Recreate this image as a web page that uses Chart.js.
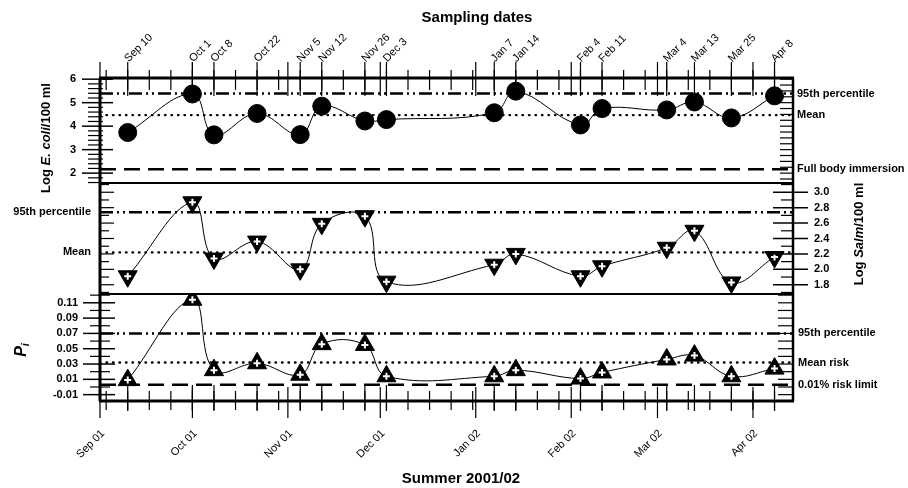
<!DOCTYPE html>
<html>
<head>
<meta charset="utf-8">
<script src="https://cdn.jsdelivr.net/npm/chart.js@4.4.1/dist/chart.umd.min.js"></script>
<style>
  html, body { margin: 0; padding: 0; background: #fff; }
</style>
</head>
<body>
<canvas id="pathogens" width="908" height="488"></canvas>
<script>
// Beach sampling, summer 2001/02: E. coli, Salmonella and infection risk

const sampleDates = ['2001-09-10', '2001-10-01', '2001-10-08', '2001-10-22', '2001-11-05', '2001-11-12', '2001-11-26', '2001-12-03',
  '2002-01-07', '2002-01-14', '2002-02-04', '2002-02-11', '2002-03-04', '2002-03-13', '2002-03-25', '2002-04-08']
const sampleLabels = ['Sep 10', 'Oct 1', 'Oct 8', 'Oct 22', 'Nov 5', 'Nov 12', 'Nov 26', 'Dec 3',
  'Jan 7', 'Jan 14', 'Feb 4', 'Feb 11', 'Mar 4', 'Mar 13', 'Mar 25', 'Apr 8']

const logEcoli = [3.73, 5.37, 3.63, 4.54, 3.64, 4.85, 4.22, 4.28, 4.57, 5.49, 4.05, 4.75, 4.69, 5.03, 4.35, 5.29]
const logSalm = [1.91, 2.87, 2.14, 2.36, 2.0, 2.59, 2.69, 1.84, 2.06, 2.2, 1.91, 2.04, 2.28, 2.5, 1.83, 2.16]
const riskPi = [0.009, 0.114, 0.022, 0.031, 0.016, 0.056, 0.055, 0.014, 0.014, 0.022, 0.011, 0.019, 0.036, 0.041, 0.014, 0.024]

// reference lines
const ecoliRefLabels = ['95th percentile', 'Mean', 'Full body immersion']
const ecoliRefs = [5.39, 4.47, 2.17]
const salmRefLabels = ['95th percentile', 'Mean']
const salmRefs = [2.74, 2.22]
const riskRefLabels = ['95th percentile', 'Mean risk', '0.01% risk limit']
const riskRefs = [0.07, 0.032, 0.003]

// axes
const monthDates = ['2001-09-01', '2001-10-01', '2001-11-01', '2001-12-01', '2002-01-01', '2002-02-01', '2002-03-01', '2002-04-01']
const monthLabels = ['Sep 01', 'Oct 01', 'Nov 01', 'Dec 01', 'Jan 02', 'Feb 02', 'Mar 02', 'Apr 02']
const ecoliTicks = [2, 3, 4, 5, 6]
const salmTicks = [1.8, 2.0, 2.2, 2.4, 2.6, 2.8, 3.0]
const riskTicks = [-0.01, 0.01, 0.03, 0.05, 0.07, 0.09, 0.11]

const ink = '#000'
const family = '"Liberation Sans", Arial, Helvetica, sans-serif'
Chart.defaults.font.family = family
Chart.defaults.color = ink

const day0 = Date.parse('2001-09-01')
const dayOf = d => Math.round((Date.parse(d) - day0) / 864e5)
const sampleDays = sampleDates.map(dayOf)
const monthDays = monthDates.map(dayOf)
const xMax = 225

const points = values => values.map((v, i) => ({ x: sampleDays[i], y: v }))
const flat = v => [{ x: 0, y: v }, { x: xMax, y: v }]

const refStyles = {
  pct95: { borderDash: [13, 4, 2, 4, 2, 4], borderWidth: 2.5 },
  mean: { borderDash: [0.5, 6], borderWidth: 2.4, borderCapStyle: 'round' },
  limit: { borderDash: [16, 8], borderWidth: 2.5 }
}

function refLine(v, yAxisID, style) {
  return { data: flat(v), yAxisID, borderColor: ink, pointRadius: 0, order: 3, ...refStyles[style] }
}

function marks(values, yAxisID, pointStyle, radius, rotation) {
  return {
    data: points(values), yAxisID, borderColor: ink, borderWidth: 1, tension: 0.4,
    pointStyle, pointRadius: radius, pointRotation: rotation || 0,
    pointBackgroundColor: ink, pointBorderColor: ink, pointBorderWidth: 1, order: 1
  }
}

function crosses(values, yAxisID) {
  return {
    data: points(values), yAxisID, showLine: false, pointStyle: 'cross',
    pointRadius: 3.5, pointBorderColor: '#fff', pointBorderWidth: 2, order: 0
  }
}

function axis(position, stackWeight, weight, min, max, values, labels, padding) {
  return {
    type: 'linear', position, stack: position, stackWeight, weight, min, max,
    afterBuildTicks: s => { s.ticks = values.map(v => ({ value: v })) },
    afterFit: s => { s.width = position === 'left' ? 100 : 115 },
    grid: { display: false, drawTicks: false },
    border: { display: false },
    ticks: { padding, autoSkip: false, color: ink, font: { size: 11, weight: 'bold' }, callback: (v, i) => labels[i] }
  }
}

function richText(ctx, parts, cx, cy, rot) {
  ctx.save()
  ctx.translate(cx, cy)
  ctx.rotate(rot)
  ctx.textAlign = 'left'
  ctx.textBaseline = 'middle'
  let w = 0
  parts.forEach(p => { ctx.font = p.font; w += ctx.measureText(p.t).width })
  let px = -w / 2
  parts.forEach(p => {
    ctx.font = p.font
    ctx.fillText(p.t, px, p.dy || 0)
    px += ctx.measureText(p.t).width
  })
  ctx.restore()
}

// frame, tick marks and titles
const decor = {
  id: 'decor',
  afterDraw(chart) {
    const { ctx, chartArea: a, scales: s } = chart
    ctx.save()
    ctx.strokeStyle = ink
    ctx.fillStyle = ink
    const seg = (x1, y1, x2, y2, w) => {
      ctx.lineWidth = w
      ctx.beginPath()
      ctx.moveTo(x1, y1)
      ctx.lineTo(x2, y2)
      ctx.stroke()
    }
    const steps = (scale, step, fn) => {
      const n0 = Math.ceil(scale.min / step - 1e-6)
      const n1 = Math.floor(scale.max / step + 1e-6)
      for (let n = n0; n <= n1; n++) fn(scale.getPixelForValue(n * step), n)
    }

    // x ticks: weeks, month starts, sampling dates
    for (let d = 2; d <= xMax; d += 7) {
      const px = s.x.getPixelForValue(d)
      seg(px, a.top - 8, px, a.top + 12, 1.2)
      seg(px, a.bottom - 10, px, a.bottom + 9, 1.2)
    }
    monthDays.forEach(d => {
      const px = s.x.getPixelForValue(d)
      seg(px, a.top - 16, px, a.top + 18, 1.2)
      seg(px, a.bottom - 14, px, a.bottom + 17, 1.2)
    })
    sampleDays.forEach(d => {
      const px = s.x.getPixelForValue(d)
      seg(px, a.top - 16, px, a.top + 18, 1.2)
      seg(px, a.bottom - 16, px, a.bottom + 10, 1.2)
    })

    // y ticks
    steps(s.yTopL, 0.2, (py, n) => n % 5 === 0 ? seg(a.left - 18, py, a.left + 13, py, 1.5) : seg(a.left - 12, py, a.left + 3, py, 1.2))
    steps(s.yTopR, 0.25, py => seg(a.right - 13, py, a.right, py, 1.2))
    steps(s.yMidL, 0.1, (py, n) => seg(a.left, py, a.left + (n % 2 === 0 ? 14 : 9), py, 1.2))
    steps(s.yMidR, 0.1, (py, n) => n % 2 === 0 ? seg(a.right - 20, py, a.right + 15, py, 1.5) : seg(a.right - 12, py, a.right, py, 1.2))
    steps(s.yBotL, 0.01, (py, n) => Math.abs(n % 2) === 1 ? seg(a.left - 17, py, a.left + 15, py, 1.5) : seg(a.left - 10, py, a.left + 10, py, 1.2))
    steps(s.yBotR, 0.01, py => seg(a.right - 15, py, a.right, py, 1.2))

    // panel frame
    seg(a.left - 1, a.top, a.right + 1, a.top, 3)
    seg(a.left - 1, a.bottom, a.right + 1, a.bottom, 3)
    seg(a.left, a.top, a.left, a.bottom, 3)
    seg(a.right, a.top, a.right, a.bottom, 2.5)
    seg(a.left, s.yTopL.bottom, a.right, s.yTopL.bottom, 2)
    seg(a.left, s.yMidL.bottom, a.right, s.yMidL.bottom, 2)

    // titles
    ctx.textAlign = 'center'
    ctx.textBaseline = 'middle'
    ctx.font = 'bold 15px ' + family
    ctx.fillText('Sampling dates', 477, 18)
    ctx.fillText('Summer 2001/02', 461, 479)

    const b = 'bold 13px ' + family
    const bi = 'italic bold 13px ' + family
    richText(ctx, [{ t: 'Log ', font: b }, { t: 'E. coli', font: bi }, { t: '/100 ml', font: b }], 46, 138, -Math.PI / 2)
    richText(ctx, [{ t: 'Log ', font: b }, { t: 'Salm', font: bi }, { t: '/100 ml', font: b }], 859, 234, -Math.PI / 2)
    richText(ctx, [{ t: 'P', font: 'italic bold 16px ' + family }, { t: 'i', font: 'italic bold 11px ' + family, dy: 4 }], 22, 350, -Math.PI / 2)
    ctx.restore()
  }
}

const ctx = document.getElementById('pathogens').getContext('2d')

const datasets = [
  refLine(ecoliRefs[0], 'yTopL', 'pct95'),
  refLine(ecoliRefs[1], 'yTopL', 'mean'),
  refLine(ecoliRefs[2], 'yTopL', 'limit'),
  refLine(salmRefs[0], 'yMidR', 'pct95'),
  refLine(salmRefs[1], 'yMidR', 'mean'),
  refLine(riskRefs[0], 'yBotL', 'pct95'),
  refLine(riskRefs[1], 'yBotL', 'mean'),
  refLine(riskRefs[2], 'yBotL', 'limit'),
  marks(logEcoli, 'yTopL', 'circle', 9),
  marks(logSalm, 'yMidR', 'triangle', 11, 180),
  crosses(logSalm, 'yMidR'),
  marks(riskPi, 'yBotL', 'triangle', 11),
  crosses(riskPi, 'yBotL')
]

const pathogens = new Chart(ctx, {
  type: 'line',
  data: { datasets },
  options: {
    responsive: false,
    animation: false,
    events: [],
    layout: { padding: 0 },
    plugins: {
      legend: { display: false },
      tooltip: { enabled: false }
    },
    scales: {
      x: {
        type: 'linear', position: 'bottom', min: 0, max: xMax,
        afterBuildTicks: s => { s.ticks = monthDays.map(v => ({ value: v })) },
        afterFit: s => { s.height = 87 },
        grid: { display: false, drawTicks: false },
        border: { display: false },
        ticks: { autoSkip: false, minRotation: 45, maxRotation: 45, padding: 26, labelOffset: 3, color: ink, font: { size: 11 }, callback: (v, i) => monthLabels[i] }
      },
      xTop: {
        type: 'linear', position: 'top', min: 0, max: xMax,
        afterBuildTicks: s => { s.ticks = sampleDays.map(v => ({ value: v })) },
        afterFit: s => { s.height = 78 },
        grid: { display: false, drawTicks: false },
        border: { display: false },
        ticks: { autoSkip: false, minRotation: 45, maxRotation: 45, padding: 13, labelOffset: 8, color: ink, font: { size: 11 }, callback: (v, i) => sampleLabels[i] }
      },
      yTopL: axis('left', 105, 3, 1.58, 6.05, ecoliTicks, ecoliTicks.map(String), 24),
      yMidL: axis('left', 111, 2, 1.68, 3.12, salmRefs, salmRefLabels, 9),
      yBotL: axis('left', 107, 1, -0.0183, 0.1215, riskTicks, riskTicks.map(v => v.toFixed(2)), 22),
      yTopR: axis('right', 105, 1, 1.58, 6.05, ecoliRefs, ecoliRefLabels, 4),
      yMidR: axis('right', 111, 2, 1.68, 3.12, salmTicks, salmTicks.map(v => v.toFixed(1)), 21),
      yBotR: axis('right', 107, 3, -0.0183, 0.1215, riskRefs, riskRefLabels, 5)
    }
  },
  plugins: [decor]
})
</script>
</body>
</html>
